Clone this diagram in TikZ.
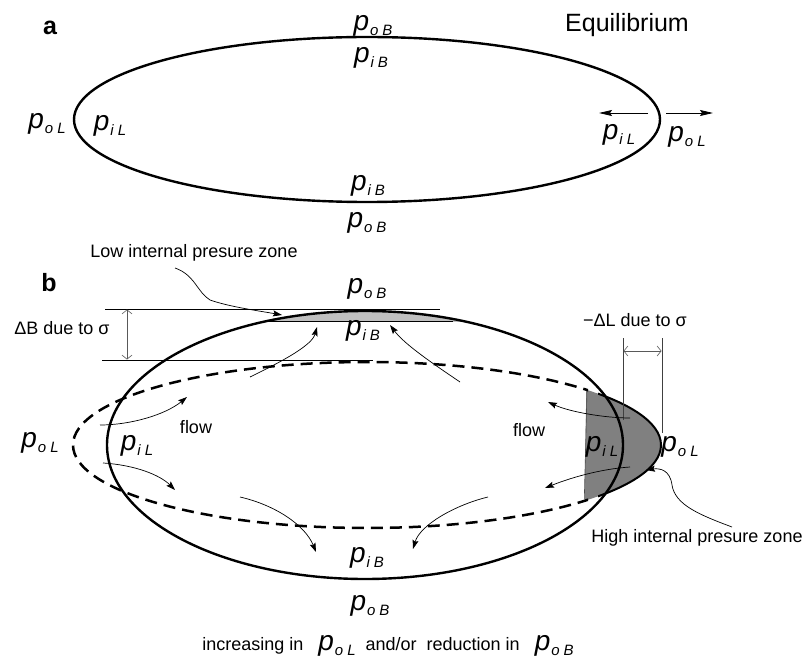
\documentclass[tikz,border=0pt]{standalone}
\usepackage{fontspec}
\setmainfont{Liberation Sans}
\usetikzlibrary{arrows.meta}
\newcommand{\pv}[2]{{\fontsize{28}{28}\selectfont\itshape p}\kern1pt\raisebox{-5pt}{\fontsize{15}{15}\selectfont\itshape #1\kern4pt#2}}
\definecolor{zonedark}{HTML}{808080}
\definecolor{zonelight}{HTML}{C0C0C0}
\tikzset{
  lbl/.style={inner sep=0pt, font=\fontsize{18}{18}\selectfont},
  pl/.style={inner sep=0pt},
  panel/.style={inner sep=0pt, font=\fontsize{25}{25}\selectfont\bfseries},
  title/.style={inner sep=0pt, font=\fontsize{25}{25}\selectfont},
  flowarrow/.style={line width=0.7pt, -{Stealth[length=9pt,width=6pt,inset=1.5pt]}},
  forcearrow/.style={line width=0.8pt, -{Stealth[length=13pt,width=6pt,inset=2pt]}},
  thinline/.style={line width=0.8pt},
  guide/.style={line width=0.8pt, draw=black!75},
  dimarrow/.style={line width=0.6pt, draw=black!65, {Straight Barb[length=4pt,width=10pt]}-{Straight Barb[length=4pt,width=10pt]}},
  outline/.style={line width=2.4pt},
  dashedline/.style={line width=2.5pt, dash pattern=on 12pt off 7pt},
}
\begin{document}
\begin{tikzpicture}[x=1pt,y=-1pt]
\useasboundingbox (0,0) rectangle (805,660);

% ---------------- panel a ----------------
\node[panel] (a) at (50,28) {a};
\node[title] (eq) at (627,25) {Equilibrium};
\draw[outline] (367,119.5) ellipse [x radius=293, y radius=82.5];
\node[pl] (aoBt) at (373,26) {\pv{o}{B}};
\node[pl] (aiBt) at (371,58) {\pv{i}{B}};
\node[pl] (aiBb) at (368,186) {\pv{i}{B}};
\node[pl] (aoBb) at (367,223) {\pv{o}{B}};
\node[pl] (aoLl) at (47,124) {\pv{o}{L}};
\node[pl] (aiLl) at (110,126) {\pv{i}{L}};
\node[pl] (aiLr) at (619,135) {\pv{i}{L}};
\node[pl] (aoLr) at (687,137) {\pv{o}{L}};
\coordinate (fa1) at (648,113);
\coordinate (fa2) at (599,113);
\coordinate (fa3) at (666,113);
\coordinate (fa4) at (713,113);
\draw[forcearrow] (fa1) -- (fa2);
\draw[forcearrow] (fa3) -- (fa4);

% ---------------- panel b ----------------
\node[panel] (b) at (49,283) {b};

% low pressure zone
\begin{scope}
  \clip (0,290) rectangle (805,321);
  \fill[zonelight] (365,445) ellipse [x radius=258, y radius=134];
\end{scope}
\coordinate (lz1) at (267,321);
\coordinate (lz2) at (453,321);
\draw[thinline] (lz1) -- (lz2);

% high pressure zone
\begin{scope}
  \clip (587,340) -- (720,340) -- (720,545) -- (584,545) -- cycle;
  \fill[zonedark] (367,445) ellipse [x radius=294, y radius=83];
\end{scope}
\coordinate (hz1) at (587,390);
\coordinate (hz2) at (584.3,499);
\draw[line width=0.6pt, black!70] (hz1) -- (hz2);
\begin{scope}
  \clip (598,340) rectangle (720,545);
  \draw[line width=2pt] (367,445) ellipse [x radius=294, y radius=83];
\end{scope}

% dashed (deformed) shape
\begin{scope}
  \clip (0,300) rectangle (588,560);
  \draw[dashedline] (367,445) ellipse [x radius=294, y radius=83];
\end{scope}

% solid (original) shape
\draw[outline] (365,445) ellipse [x radius=258, y radius=134];

% dimension lines Delta B
\coordinate (hb1) at (105,309);
\coordinate (hb2) at (440,309);
\coordinate (hb3) at (102,360);
\coordinate (hb4) at (373,360);
\draw[thinline] (hb1) -- (hb2);
\draw[thinline] (hb3) -- (hb4);
\coordinate (db1) at (127,309.5);
\coordinate (db2) at (127,359.5);
\draw[dimarrow] (db1) -- (db2);
\node[lbl] (dB) at (62,328) {ΔB due to σ};

% dimension lines Delta L
\coordinate (vl1) at (623,338);
\coordinate (vl2) at (623,420);
\coordinate (vl3) at (662,338);
\coordinate (vl4) at (662,433);
\draw[guide] (vl1) -- (vl2);
\draw[guide] (vl3) -- (vl4);
\coordinate (dl1) at (623.5,351);
\coordinate (dl2) at (661.5,351);
\draw[dimarrow] (dl1) -- (dl2);
\node[lbl] (dL) at (635,320) {−ΔL due to σ};

% labels
\node[lbl] (low) at (194,253) {Low internal presure zone};
\node[lbl] (high) at (697,538) {High internal presure zone};
\node[pl] (boBt) at (367,289) {\pv{o}{B}};
\node[pl] (biBt) at (363,331) {\pv{i}{B}};
\node[pl] (boLl) at (40,443) {\pv{o}{L}};
\node[pl] (biLl) at (137,446) {\pv{i}{L}};
\node[pl] (biLr) at (602,447) {\pv{i}{L}};
\node[pl] (boLr) at (680,447) {\pv{o}{L}};
\node[pl] (biBb) at (367,558) {\pv{i}{B}};
\node[pl] (boBb) at (370,606) {\pv{o}{B}};
\node[lbl] (flowl) at (196,427) {flow};
\node[lbl] (flowr) at (529,430) {flow};
\node[lbl, anchor=base] (cap) at (388,650) {increasing in\ \ \ \pv{o}{L}\ \ and/or\ \ reduction in\ \ \ \pv{o}{B}};

% leaders
\coordinate (ll1) at (175,268);
\coordinate (ll2) at (210,300);
\coordinate (ll3) at (282,315);
\draw[flowarrow] (ll1) .. controls (195,275) and (197,292) .. (ll2) .. controls (230,307) and (260,311) .. (ll3);
\coordinate (hl1) at (732,527);
\coordinate (hl2) at (672,485);
\coordinate (hl3) at (646,470);
\draw[flowarrow] (hl1) .. controls (700,515) and (675,505) .. (hl2) .. controls (670,470) and (660,468) .. (hl3);

% flow arrows
\coordinate (f1a) at (250,377); \coordinate (f1b) at (317,327);
\draw[flowarrow] (f1a) .. controls (285,360) and (312,345) .. (f1b);
\coordinate (f2a) at (460,382); \coordinate (f2b) at (390,325);
\draw[flowarrow] (f2a) .. controls (435,365) and (405,345) .. (f2b);
\coordinate (f3a) at (100,425); \coordinate (f3b) at (187,397);
\draw[flowarrow] (f3a) .. controls (130,425) and (165,415) .. (f3b);
\coordinate (f4a) at (103,463); \coordinate (f4b) at (175,490);
\draw[flowarrow] (f4a) .. controls (135,465) and (160,475) .. (f4b);
\coordinate (f5a) at (240,497); \coordinate (f5b) at (316,552);
\draw[flowarrow] (f5a) .. controls (275,505) and (305,525) .. (f5b);
\coordinate (f6a) at (488,497); \coordinate (f6b) at (413,549);
\draw[flowarrow] (f6a) .. controls (455,505) and (420,525) .. (f6b);
\coordinate (f7a) at (630,418); \coordinate (f7b) at (548,402);
\draw[flowarrow] (f7a) .. controls (605,418) and (570,412) .. (f7b);
\coordinate (f8a) at (630,467); \coordinate (f8b) at (545,488);
\draw[flowarrow] (f8a) .. controls (600,469) and (570,478) .. (f8b);
\end{tikzpicture}
\end{document}
